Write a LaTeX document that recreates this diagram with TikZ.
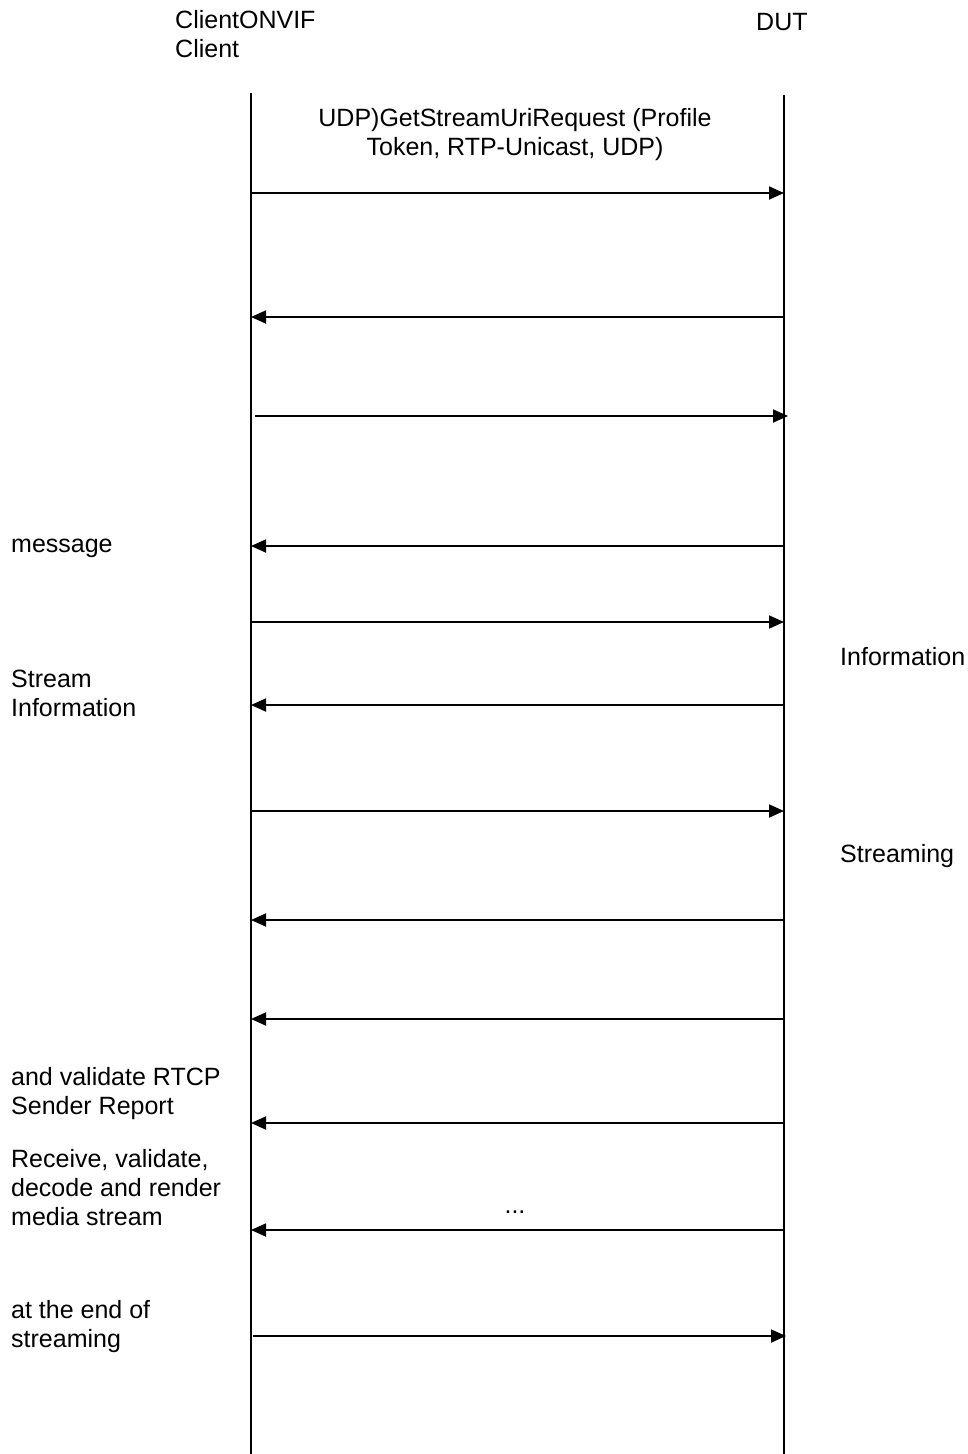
\documentclass[tikz,border=0pt]{standalone}
\usepackage{fontspec}
\setmainfont{Liberation Sans}
\usetikzlibrary{arrows.meta}
\begin{document}
\begin{tikzpicture}[x=1pt,y=-1pt,
  lifeline/.style={line width=1.4pt},
  msg/.style={line width=1.8pt,-{Triangle[length=15pt,width=13pt]}},
  % multi-line labels: the base anchor sits on the last line
  lbl/.style={inner sep=0pt,anchor=base west,align=left,
              font=\fontsize{25pt}{28.6pt}\selectfont},
  clbl/.style={lbl,anchor=base,align=center},
]
\useasboundingbox (0,0) rectangle (967,1454);

% participants
\node[lbl] (client) at (175,57) {ClientONVIF\\Client};
\node[lbl] (dut) at (756,30) {DUT};

% lifelines
\coordinate (cTop) at (251,93);
\coordinate (cBot) at (251,1454);
\coordinate (dTop) at (784,95);
\coordinate (dBot) at (784,1454);
\draw[lifeline] (cTop) -- (cBot);
\draw[lifeline] (dTop) -- (dBot);

% message end points on the lifelines
\foreach \i/\y in {1/193,2/317,4/546,5/622,6/705,7/811,8/920,9/1019,10/1123,11/1230}{
  \coordinate (c\i) at (251,\y);
  \coordinate (d\i) at (784,\y);
}
\coordinate (c3) at (255,416);
\coordinate (d3) at (788,416);
\coordinate (c12) at (253,1336);
\coordinate (d12) at (786,1336);

% messages
\draw[msg] (c1) -- (d1);
\draw[msg] (d2) -- (c2);
\draw[msg] (c3) -- (d3);
\draw[msg] (d4) -- (c4);
\draw[msg] (c5) -- (d5);
\draw[msg] (d6) -- (c6);
\draw[msg] (c7) -- (d7);
\draw[msg] (d8) -- (c8);
\draw[msg] (d9) -- (c9);
\draw[msg] (d10) -- (c10);
\draw[msg] (d11) -- (c11);
\draw[msg] (c12) -- (d12);

% labels
\node[clbl] (req) at (515,155) {UDP)GetStreamUriRequest (Profile\\Token, RTP-Unicast, UDP)};
\node[lbl] (l1) at (11,552) {message};
\node[lbl] (l2) at (11,716) {Stream\\Information};
\node[lbl] (r1) at (840,665) {Information};
\node[lbl] (r2) at (840,862) {Streaming};
\node[lbl] (l3) at (11,1114) {and validate RTCP\\Sender Report};
\node[lbl] (l4) at (11,1225) {Receive, validate,\\decode and render\\media stream};
\node[clbl] (dots) at (515,1213) {...};
\node[lbl] (l5) at (11,1347) {at the end of\\streaming};
\end{tikzpicture}
\end{document}
